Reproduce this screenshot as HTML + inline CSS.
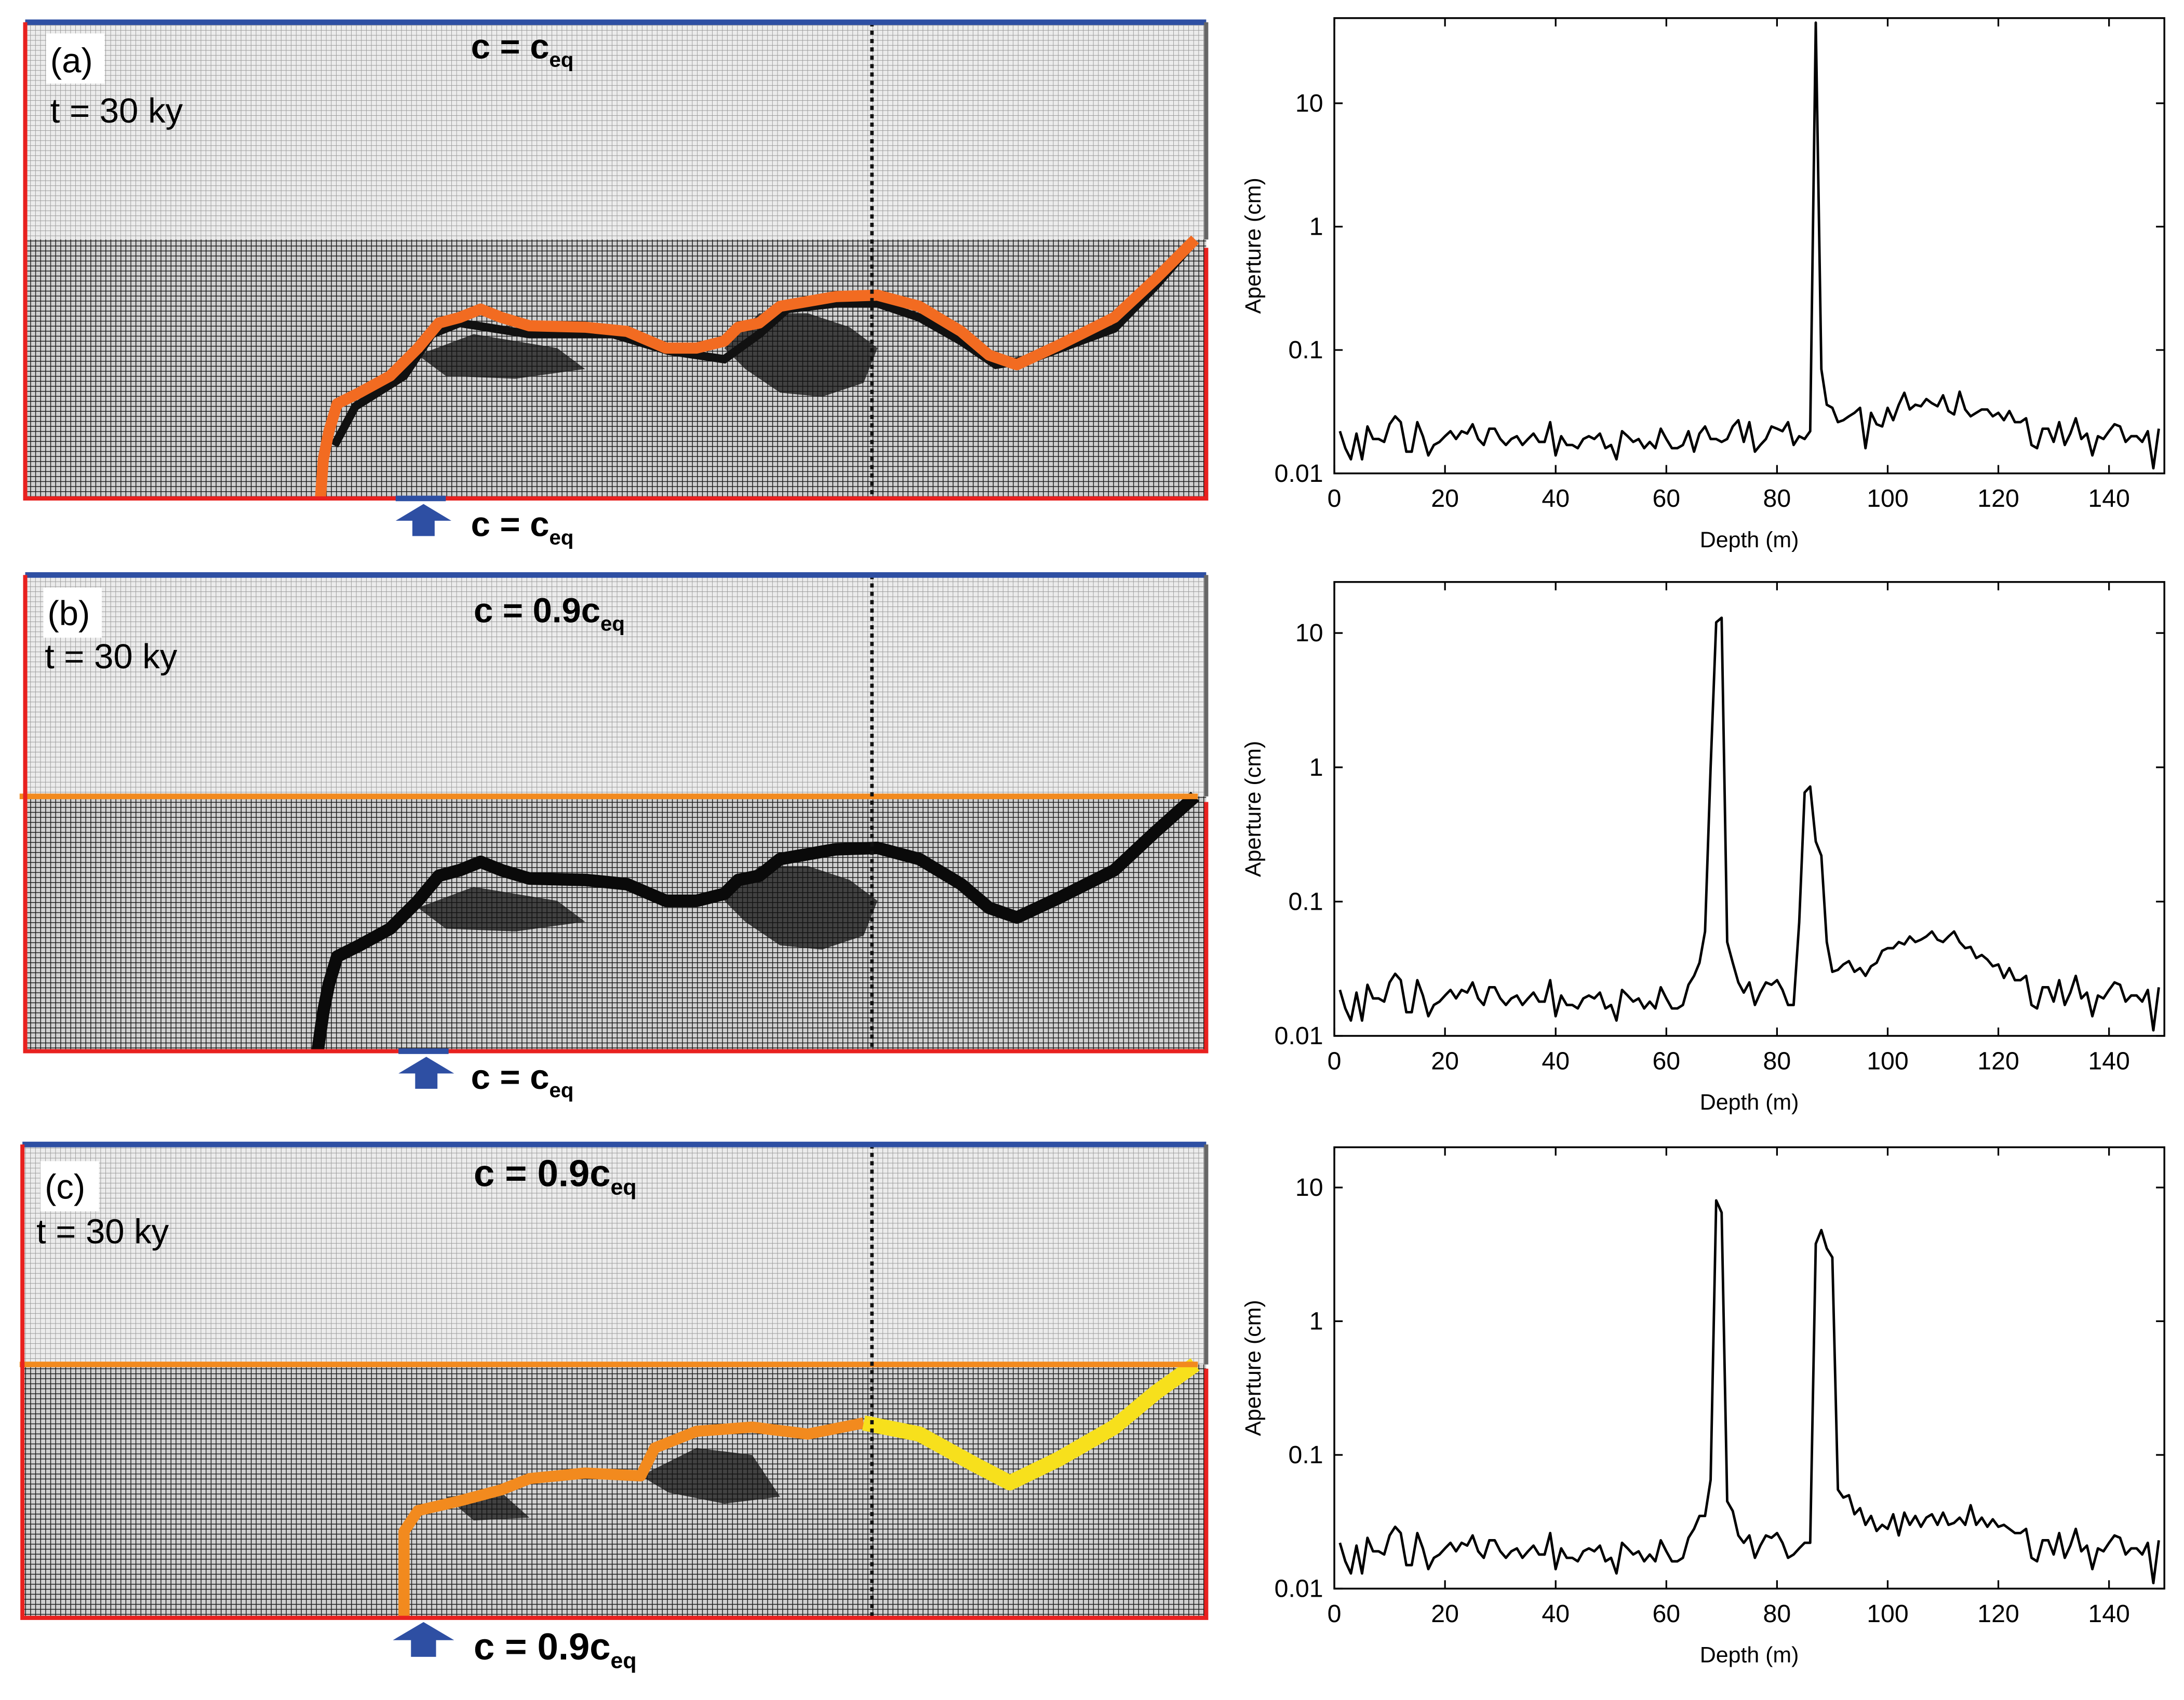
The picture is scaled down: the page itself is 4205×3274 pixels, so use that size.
<!DOCTYPE html>
<html><head><meta charset="utf-8"><style>
html,body{margin:0;padding:0;background:#fff;}
svg{display:block;font-family:"Liberation Sans",sans-serif;}
</style></head><body>
<svg id="fig" width="4205" height="3274" viewBox="0 0 1568 1221" xmlns="http://www.w3.org/2000/svg">
<defs>
<pattern id="gl" width="3.6" height="3.6" patternUnits="userSpaceOnUse"><rect width="3.6" height="3.6" fill="#ececec"/><path d="M0 0H3.6M0 0V3.6" stroke="#9a9a9a" stroke-width="0.7"/></pattern>
<pattern id="gd" width="3.6" height="3.6" patternUnits="userSpaceOnUse"><rect width="3.6" height="3.6" fill="#d0d0d0"/><path d="M0 0H3.6M0 0V3.6" stroke="#1a1a1a" stroke-width="1.1"/></pattern>
</defs>

<!-- Panel a -->
<g>
<rect x="18" y="16" width="848" height="156" fill="url(#gl)"/>
<rect x="18" y="172" width="848" height="186" fill="url(#gd)"/>
<path d="M520 250 L545 225 L580 225 L610 235 L630 250 L620 275 L590 285 L560 282 L535 265Z M300 255 L340 240 L400 250 L420 265 L370 272 L320 270Z" fill="#111" opacity="0.75"/>
<polyline fill="none" stroke="#111" stroke-width="6" points="240,320 255,292 290,270 310,240 330,232 380,240 440,240 480,252 520,258 545,240 565,222 600,218 630,218 660,228 690,245 715,262 740,258 800,236 830,205 856,175"/>
<polyline fill="none" stroke="#f26b21" stroke-width="8" stroke-linejoin="round" points="230,358 232,330 236,310 242,290 258,282 280,270 300,250 315,232 330,228 345,222 360,228 380,234 420,235 450,238 478,250 500,250 520,245 530,235 545,232 560,220 600,213 630,212 660,220 690,238 710,255 730,262 760,248 800,228 830,200 858,172"/>
<line x1="626" y1="16" x2="626" y2="358" stroke="#111" stroke-width="2.5" stroke-dasharray="3,3"/>
<line x1="18" y1="16" x2="866" y2="16" stroke="#2e4fa3" stroke-width="4"/>
<polyline points="18,16 18,358 866,358 866,178" fill="none" stroke="#e8211f" stroke-width="3"/>
<line x1="866" y1="16" x2="866" y2="172" stroke="#666" stroke-width="3"/>
<line x1="284" y1="358" x2="320" y2="358" stroke="#2e4fa3" stroke-width="4"/>
<rect x="33" y="24" width="42" height="36" fill="#fff"/>
<text x="36" y="52" font-size="25">(a)</text>
<text x="36" y="88" font-size="25">t = 30 ky</text>
<text x="338" y="42" font-size="25" font-weight="bold">c = c<tspan font-size="15" dy="6">eq</tspan></text>
<path d="M304 362 L324 374 L312 374 L312 385 L296 385 L296 374 L284 374Z" fill="#2e4fa3"/>
<text x="338" y="385" font-size="25" font-weight="bold">c = c<tspan font-size="15" dy="6">eq</tspan></text>
</g>

<!-- Panel b -->
<g>
<rect x="18" y="413" width="848" height="159" fill="url(#gl)"/>
<rect x="18" y="572" width="848" height="183" fill="url(#gd)"/>
<path d="M520 647 L545 622 L580 622 L610 632 L630 647 L620 672 L590 682 L560 679 L535 662Z M300 652 L340 637 L400 647 L420 662 L370 669 L320 667Z" fill="#111" opacity="0.75"/>
<polyline fill="none" stroke="#0a0a0a" stroke-width="9" stroke-linejoin="round" points="228,755 232,727 236,707 242,687 258,679 280,667 300,647 315,629 330,625 345,619 360,625 380,631 420,632 450,635 478,647 500,647 520,642 530,632 545,629 560,617 600,610 630,609 660,617 690,635 710,652 730,659 760,645 800,625 830,597 858,572"/>
<line x1="14" y1="572" x2="860" y2="572" stroke="#f28a1e" stroke-width="4"/>
<line x1="626" y1="413" x2="626" y2="755" stroke="#111" stroke-width="2.5" stroke-dasharray="3,3"/>
<line x1="18" y1="413" x2="866" y2="413" stroke="#2e4fa3" stroke-width="4"/>
<polyline points="18,413 18,755 866,755 866,576" fill="none" stroke="#e8211f" stroke-width="3"/>
<line x1="866" y1="413" x2="866" y2="572" stroke="#666" stroke-width="3"/>
<line x1="286" y1="755" x2="322" y2="755" stroke="#2e4fa3" stroke-width="4"/>
<rect x="31" y="422" width="42" height="36" fill="#fff"/>
<text x="34" y="449" font-size="25">(b)</text>
<text x="32" y="480" font-size="25">t = 30 ky</text>
<text x="340" y="447" font-size="25" font-weight="bold">c = 0.9c<tspan font-size="15" dy="6">eq</tspan></text>
<path d="M306 759 L326 771 L314 771 L314 782 L298 782 L298 771 L286 771Z" fill="#2e4fa3"/>
<text x="338" y="782" font-size="25" font-weight="bold">c = c<tspan font-size="15" dy="6">eq</tspan></text>
</g>

<!-- Panel c -->
<g>
<rect x="16" y="822" width="850" height="158" fill="url(#gl)"/>
<rect x="16" y="980" width="850" height="182" fill="url(#gd)"/>
<path d="M460 1060 L500 1040 L540 1045 L560 1075 L520 1080 L480 1072Z M320 1075 L360 1072 L380 1090 L340 1092Z" fill="#111" opacity="0.75"/>
<polyline fill="none" stroke="#f28a1e" stroke-width="8" stroke-linejoin="round" points="290,1162 290,1100 300,1085 330,1078 360,1070 380,1062 420,1058 460,1060 470,1040 500,1028 540,1025 580,1030 620,1022"/>
<polyline fill="none" stroke="#f7e01c" stroke-width="11" stroke-linejoin="round" points="620,1022 660,1030 700,1052 725,1065 760,1048 800,1025 830,1000 858,980"/>
<line x1="14" y1="980" x2="860" y2="980" stroke="#f28a1e" stroke-width="4"/>
<line x1="626" y1="822" x2="626" y2="1162" stroke="#111" stroke-width="2.5" stroke-dasharray="3,3"/>
<line x1="16" y1="822" x2="866" y2="822" stroke="#2e4fa3" stroke-width="4"/>
<polyline points="16,822 16,1162 866,1162 866,983" fill="none" stroke="#e8211f" stroke-width="3"/>
<line x1="866" y1="822" x2="866" y2="980" stroke="#666" stroke-width="3"/>
<rect x="29" y="834" width="42" height="36" fill="#fff"/>
<text x="32" y="861" font-size="25">(c)</text>
<text x="26" y="893" font-size="25">t = 30 ky</text>
<text x="340" y="852" font-size="27" font-weight="bold">c = 0.9c<tspan font-size="16" dy="6">eq</tspan></text>
<path d="M304 1165 L326 1178 L313 1178 L313 1190 L295 1190 L295 1178 L282 1178Z" fill="#2e4fa3"/>
<text x="340" y="1192" font-size="27" font-weight="bold">c = 0.9c<tspan font-size="16" dy="6">eq</tspan></text>
</g>

<g id="charts"></g>
</svg>
<script>
const depthTicks = [0,20,40,60,80,100,120,140];
const apTicks = [0.01,0.1,1,10];
const apTickLabels = ["0.01","0.1","1","10"];
const seriesA = [0.022,0.016,0.013,0.021,0.013,0.024,0.019,0.019,0.018,0.025,
0.029,0.026,0.015,0.015,0.026,0.020,0.014,0.017,0.018,0.020,
0.022,0.019,0.022,0.021,0.025,0.019,0.017,0.023,0.023,0.019,
0.017,0.019,0.020,0.017,0.019,0.021,0.018,0.018,0.026,0.014,
0.020,0.017,0.017,0.016,0.019,0.020,0.019,0.021,0.016,0.017,
0.013,0.022,0.020,0.018,0.019,0.016,0.018,0.016,0.023,0.019,
0.016,0.016,0.017,0.022,0.015,0.021,0.024,0.019,0.019,0.018,
0.019,0.024,0.027,0.018,0.026,0.015,0.017,0.019,0.024,0.023,
0.022,0.026,0.017,0.020,0.019,0.022,45,0.07,0.036,0.034,
0.026,0.027,0.029,0.031,0.034,0.016,0.031,0.025,0.024,0.034,
0.027,0.036,0.045,0.033,0.036,0.035,0.040,0.037,0.035,0.043,
0.032,0.030,0.046,0.033,0.029,0.031,0.033,0.033,0.029,0.031,
0.027,0.032,0.026,0.026,0.028,0.017,0.016,0.023,0.023,0.018,
0.026,0.017,0.021,0.028,0.019,0.021,0.014,0.020,0.019,0.022,
0.025,0.024,0.018,0.020,0.020,0.018,0.022,0.011,0.023];
const segB = [0.024,0.028,0.035,0.06,1.0,12,13,0.05,0.035,0.025,0.021,0.025,0.017,0.021,0.025,0.024,0.026,0.022,0.017,0.017,0.07,0.65,0.72,0.28,0.22,0.05,0.03,0.031,0.034,0.036,0.030,0.032,0.028,0.033,0.035,0.043,0.045,0.045,0.050,0.048,0.055,0.050,0.052,0.055,0.060,0.052,0.050,0.055,0.060,0.050,0.045,0.046,0.038,0.040,0.037,0.033,0.034,0.027,0.032,0.026,0.026,0.028];
const segC = [0.024,0.028,0.035,0.035,0.065,8.0,6.5,0.045,0.038,0.025,0.022,0.025,0.017,0.021,0.025,0.024,0.026,0.022,0.017,0.018,0.020,0.022,0.022,3.8,4.8,3.5,3.0,0.055,0.048,0.050,0.036,0.040,0.030,0.035,0.027,0.030,0.028,0.036,0.025,0.037,0.030,0.035,0.029,0.034,0.036,0.030,0.037,0.030,0.031,0.034,0.030,0.042,0.030,0.034,0.029,0.033,0.029,0.030,0.028,0.026,0.026,0.028];
const seriesB = seriesA.slice(0,63).concat(segB).concat(seriesA.slice(125));
const seriesC = seriesA.slice(0,63).concat(segC).concat(seriesA.slice(125));

const NS="http://www.w3.org/2000/svg";
const root=document.getElementById('charts');
function mk(tag,attrs,parent){const e=document.createElementNS(NS,tag);for(const k in attrs)e.setAttribute(k,attrs[k]);parent.appendChild(e);return e;}

function drawChart(id,series,top,bottom,ymax){
  const L=958,R=1554,xmax=150;
  const g=mk('g',{},root);
  
  
  const xs=v=>L+(v/xmax)*(R-L);
  const ys=v=>bottom-(Math.log10(v)+2)/(Math.log10(ymax)+2)*(bottom-top);
  const frame=mk('rect',{x:L,y:top,width:R-L,height:bottom-top,fill:'none',stroke:'#000','stroke-width':1.3},g);
  
  
  depthTicks.forEach(t=>{
    const x=xs(t);
    mk('line',{x1:x,y1:bottom,x2:x,y2:bottom-6,stroke:'#000','stroke-width':1.2},g);
    mk('line',{x1:x,y1:top,x2:x,y2:top+6,stroke:'#000','stroke-width':1.2},g);
    const tx=mk('text',{x:x,y:bottom+24,'font-size':18,'text-anchor':'middle'},g);
    tx.textContent=t;
    
    
  });
  apTicks.forEach((t,i)=>{
    const y=ys(t);
    mk('line',{x1:L,y1:y,x2:L+6,y2:y,stroke:'#000','stroke-width':1.2},g);
    mk('line',{x1:R,y1:y,x2:R-6,y2:y,stroke:'#000','stroke-width':1.2},g);
    const tx=mk('text',{x:L-8,y:y+6,'font-size':18,'text-anchor':'end'},g);
    tx.textContent=apTickLabels[i];
    
    
  });
  const pts=series.map((v,i)=>xs(i+1).toFixed(1)+','+ys(v).toFixed(1)).join(' ');
  const line=mk('polyline',{points:pts,fill:'none',stroke:'#000','stroke-width':1.8,'stroke-linejoin':'round'},g);
  
  
  const xl=mk('text',{x:(L+R)/2,y:bottom+53,'font-size':16,'text-anchor':'middle'},g);
  xl.textContent='Depth (m)';
  
  
  const cy=(top+bottom)/2;
  const yl=mk('text',{x:905,y:cy,'font-size':16,'text-anchor':'middle',transform:'rotate(-90 905 '+cy+')'},g);
  yl.textContent='Aperture (cm)';
  
  
}
drawChart('a',seriesA,13,340,49);
drawChart('b',seriesB,418,744,24);
drawChart('c',seriesC,824,1141,20);
</script>
</body></html>
